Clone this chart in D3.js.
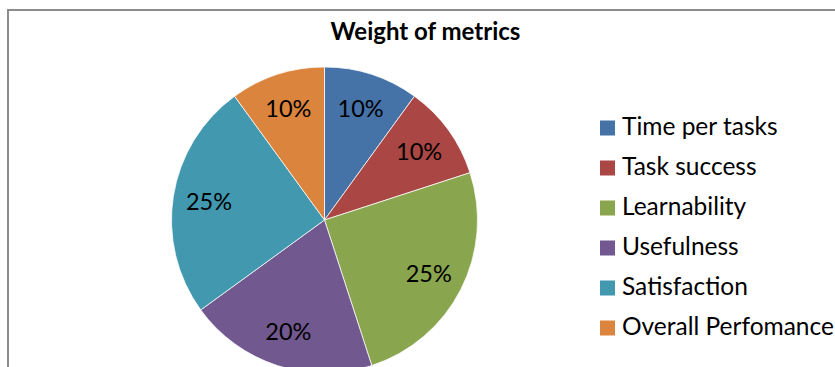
<!DOCTYPE html>
<html>
<head>
<meta charset="utf-8">
<script src="https://cdn.jsdelivr.net/npm/d3@7"></script>
<style>
  html, body { margin: 0; padding: 0; background: #fff; }
  svg { display: block; }
</style>
</head>
<body>
<svg id="chart" width="835" height="367"></svg>
<script>
// Metric names, their weights (%) and slice colours
const categories = ["Time per tasks", "Task success", "Learnability", "Usefulness", "Satisfaction", "Overall Perfomance"];
const weights = [10, 10, 25, 20, 25, 10];
const colors = ["#4572A7", "#AA4643", "#89A54E", "#71588F", "#4198AF", "#DB843D"];
const title = "Weight of metrics";

const svg = d3.select("#chart");
const font = "Lato, 'Open Sans', sans-serif";

// Chart frame
svg.append("rect")
  .attr("x", 8).attr("y", 10)
  .attr("width", 900).attr("height", 400)
  .attr("fill", "none")
  .attr("stroke", "#8c8c8c")
  .attr("stroke-width", 2);

// Title
svg.append("text")
  .attr("x", 425.5).attr("y", 40)
  .attr("text-anchor", "middle")
  .attr("font-family", font)
  .attr("font-weight", "bold")
  .attr("font-size", 24)
  .attr("fill", "#000")
  .text(title);

// Pie
const cx = 324.5, cy = 220, R = 153;
const color = d3.scaleOrdinal().domain(categories).range(colors);
const pie = d3.pie().sort(null).value((d, i) => weights[i]);
const arcs = pie(categories);
const arc = d3.arc().innerRadius(0).outerRadius(R);
const labelArc = d3.arc().innerRadius(117).outerRadius(117);

const g = svg.append("g").attr("transform", `translate(${cx},${cy})`);
g.selectAll("path.slice")
  .data(arcs)
  .join("path")
  .attr("class", "slice")
  .attr("d", arc)
  .attr("fill", d => color(d.data))
  .attr("stroke", "#ffffff")
  .attr("stroke-width", 0.75);

g.selectAll("text.pct")
  .data(arcs)
  .join("text")
  .attr("class", "pct")
  .attr("transform", d => `translate(${labelArc.centroid(d)})`)
  .attr("text-anchor", "middle")
  .attr("dy", "0.36em")
  .attr("font-family", font)
  .attr("font-size", 23.5)
  .attr("fill", "#000")
  .text(d => d.value + "%");

// Legend
const legend = svg.append("g");
const rows = legend.selectAll("g")
  .data(categories)
  .join("g")
  .attr("transform", (d, i) => `translate(600,${128 + i * 40})`);
rows.append("rect")
  .attr("x", 0).attr("y", -7.5)
  .attr("width", 15).attr("height", 15)
  .attr("fill", d => color(d));
rows.append("text")
  .attr("x", 22).attr("y", 7)
  .attr("font-family", font)
  .attr("font-size", 24.5)
  .attr("fill", "#000")
  .text(d => d);
</script>
</body>
</html>
